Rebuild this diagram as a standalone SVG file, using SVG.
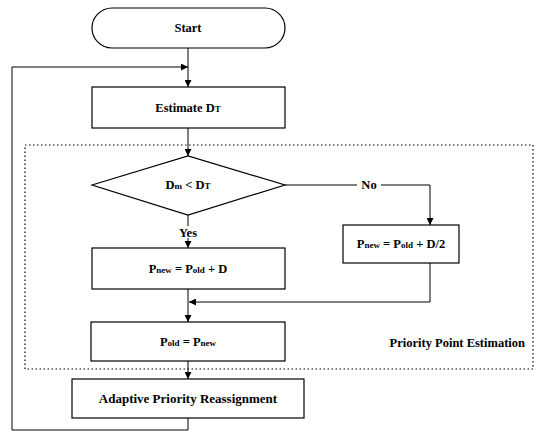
<svg xmlns="http://www.w3.org/2000/svg" width="538" height="440" viewBox="0 0 538 440" font-family="Liberation Serif, Times New Roman, serif">
  <defs>
    <marker id="arr" viewBox="0 0 10 10" refX="10" refY="5" markerWidth="7" markerHeight="7" orient="auto" markerUnits="userSpaceOnUse">
      <path d="M0,0 L10,5 L0,10 z" fill="#000"/>
    </marker>
    <style>
      .box { fill: #fff; stroke: #000; stroke-width: 1.2; }
      .con { fill: none; stroke: #000; stroke-width: 1; }
      .grp { fill: none; stroke: #000; stroke-width: 1.2; stroke-dasharray: 1.5 2.5; }
      text { font-family: 'Liberation Serif', 'DejaVu Serif', serif; font-size: 12.5px; font-weight: bold; fill: #000; text-anchor: middle; }
      .sm { font-size: 9px; }
    </style>
  </defs>
  <rect width="538" height="440" fill="#fff"/>

  <!-- dotted group boundary -->
  <g id="priority-point-estimation">
    <rect class="grp" x="25" y="145" width="508" height="224"/>
    <text x="525" y="347" style="text-anchor:end">Priority Point Estimation</text>
  </g>

  <g id="connectors">
    <line class="con" x1="188" y1="48" x2="188" y2="87" marker-end="url(#arr)"/>
    <polyline class="con" points="12,67 188,67" marker-end="url(#arr)"/>
    <line class="con" x1="188" y1="128" x2="188" y2="156" marker-end="url(#arr)"/>
    <line class="con" x1="188" y1="215" x2="188" y2="226"/>
    <line class="con" x1="188" y1="238" x2="188" y2="248" marker-end="url(#arr)"/>
    <line class="con" x1="285" y1="185" x2="357" y2="185"/>
    <polyline class="con" points="381,185 430,185 430,225" marker-end="url(#arr)"/>
    <polyline class="con" points="430,263 430,302 189,302" marker-end="url(#arr)"/>
    <line class="con" x1="188" y1="289" x2="188" y2="322" marker-end="url(#arr)"/>
    <line class="con" x1="188" y1="361" x2="188" y2="379" marker-end="url(#arr)"/>
    <polyline class="con" points="188,418 188,430 12,430 12,67"/>
    <text x="188" y="237">Yes</text>
    <text x="369" y="189">No</text>
  </g>

  <g id="start">
    <rect class="box" x="92" y="8" width="193" height="40" rx="20" ry="20"/>
    <text x="188" y="32">Start</text>
  </g>

  <g id="estimate-dt">
    <rect class="box" x="92" y="87" width="193" height="41"/>
    <text x="188" y="112">Estimate D<tspan class="sm">T</tspan></text>
  </g>

  <g id="decision">
    <polygon class="box" points="92,185 188,156 285,185 188,215"/>
    <text x="188" y="189">D<tspan class="sm">m</tspan> &lt; D<tspan class="sm">T</tspan></text>
  </g>

  <g id="pnew-d">
    <rect class="box" x="92" y="248" width="193" height="41"/>
    <text x="188" y="273">P<tspan class="sm">new</tspan> = P<tspan class="sm">old</tspan> + D</text>
  </g>

  <g id="pnew-d2">
    <rect class="box" x="343" y="225" width="116" height="38"/>
    <text x="401" y="248">P<tspan class="sm">new</tspan> = P<tspan class="sm">old</tspan> + D/2</text>
  </g>

  <g id="pold-pnew">
    <rect class="box" x="91" y="322" width="194" height="39"/>
    <text x="188" y="346">P<tspan class="sm">old</tspan> = P<tspan class="sm">new</tspan></text>
  </g>

  <g id="reassignment">
    <rect class="box" x="72" y="379" width="232" height="39"/>
    <text x="188" y="403" style="font-size:13px">Adaptive Priority  Reassignment</text>
  </g>
</svg>
